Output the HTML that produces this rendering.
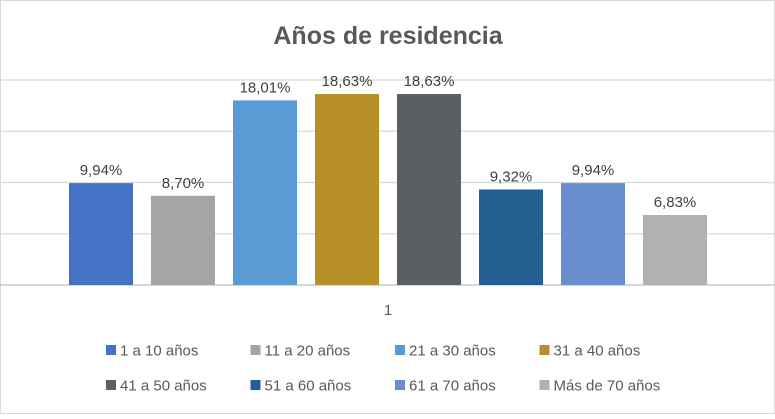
<!DOCTYPE html>
<html><head><meta charset="utf-8"><style>
body{margin:0;background:#fff;}
svg text{font-family:"Liberation Sans",sans-serif;}
</style></head><body>
<svg id="c" width="775" height="414" xmlns="http://www.w3.org/2000/svg">
<rect x="0" y="0" width="775" height="414" fill="#fff"/>
<rect x="0.5" y="0.5" width="774" height="413" fill="none" stroke="#d9d9d9"/>
<text x="388" y="44" text-anchor="middle" font-size="25" font-weight="bold" fill="#595959">Años de residencia</text>
<g id="grid"></g><g id="bars"></g><g id="legend"></g>
<text x="388" y="315" text-anchor="middle" font-size="15" fill="#595959">1</text>
</svg>
<script>
const categories=["1 a 10 años","11 a 20 años","21 a 30 años","31 a 40 años","41 a 50 años","51 a 60 años","61 a 70 años","Más de 70 años"];
const values=[9.94,8.70,18.01,18.63,18.63,9.32,9.94,6.83];
const valueLabels=["9,94%","8,70%","18,01%","18,63%","18,63%","9,32%","9,94%","6,83%"];
const gridTicks=[0,5,10,15,20];
const colors=["#4472C4","#A5A5A5","#5B9BD5","#B8902A","#5B5F62","#255E91","#698ED0","#B0B1B3"];
const NS="http://www.w3.org/2000/svg";
const y=v=>285-v*10.25;
const x=i=>69+i*82;
function mk(t,a,p){const e=document.createElementNS(NS,t);for(const k in a)e.setAttribute(k,a[k]);p.appendChild(e);return e;}
const g=document.getElementById('grid');
gridTicks.forEach(t=>{const l=mk('line',{x1:0,x2:775,y1:y(t),y2:y(t),stroke:t===0?'#bfbfbf':'#d9d9d9','stroke-width':1.3},g);

});
const b=document.getElementById('bars');
values.forEach((v,i)=>{const r=mk('rect',{x:x(i),y:y(v),width:64,height:285-y(v),fill:colors[i]},b);


const t=mk('text',{x:x(i)+32,y:y(v)-8,'text-anchor':'middle','font-size':15,fill:'#404040'},b);t.textContent=valueLabels[i];

});
const lg=document.getElementById('legend');
categories.forEach((c,i)=>{const lx=106+(i%4)*144.5, ly=i<4?350:385;
const it=mk('g',{},lg);


mk('rect',{x:lx,y:ly-5,width:10,height:10,fill:colors[i]},it);
const t=mk('text',{x:lx+14,y:ly+5.5,'font-size':15,fill:'#595959'},it);t.textContent=c;});
</script>
</body></html>
